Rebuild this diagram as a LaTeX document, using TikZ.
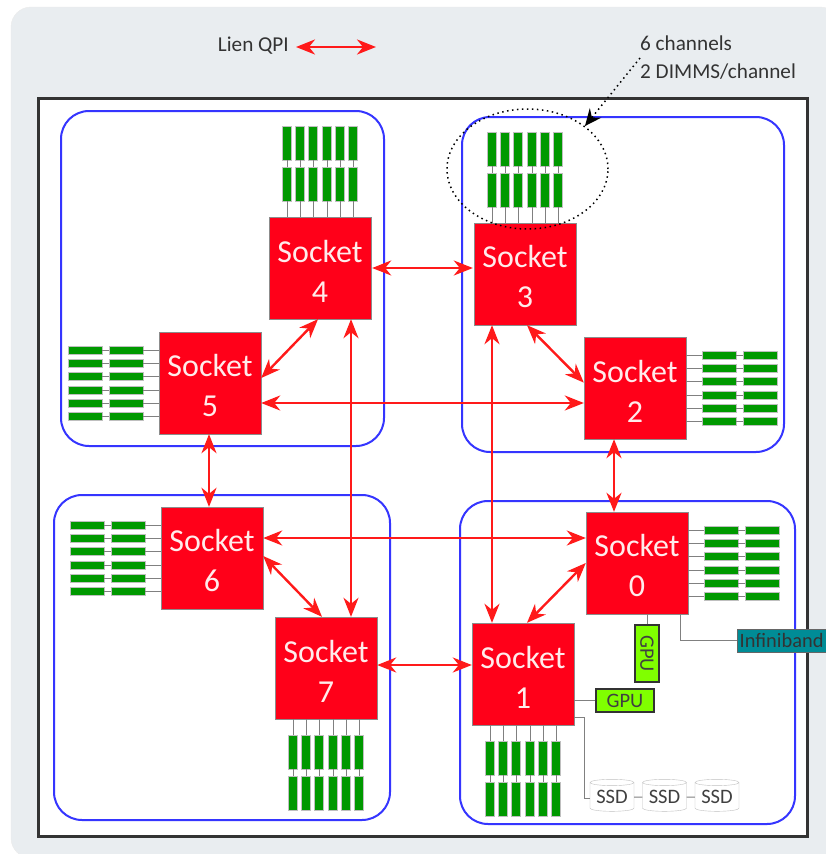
\documentclass[tikz,border=0pt]{standalone}
\usepackage{fontspec}
\setmainfont{Carlito}
\usetikzlibrary{positioning,shapes.geometric,arrows.meta,calc}
\definecolor{pagegray}{HTML}{E9EDF0}
\definecolor{socketred}{HTML}{FF0019}
\definecolor{qpired}{HTML}{FF1A1A}
\definecolor{boardblue}{HTML}{3535FF}
\definecolor{dimmgreen}{HTML}{009900}
\definecolor{gpugreen}{HTML}{80FF00}
\definecolor{ibteal}{HTML}{008C96}
\newcommand{\socketname}[1]{\rule{0pt}{28pt}Socket\\#1}
\begin{document}
\begin{tikzpicture}[
        x=1pt, y=-1pt,
        sheet/.style={rectangle, draw=black!8, fill=pagegray, rounded corners=20pt, minimum width=829pt, minimum height=851pt, inner sep=0pt},
        frame/.style={rectangle, draw=black!80, line width=2.6pt, fill=white, minimum width=769pt, minimum height=738pt, inner sep=0pt},
        board/.style={rectangle, draw=boardblue, line width=2pt, rounded corners=28pt, inner sep=0pt},
        socket/.style={rectangle, draw=black!45, fill=socketred, text=white!92!red, thin, minimum width=102pt, minimum height=102pt, inner sep=0pt, align=center, font=\fontsize{32}{40}\selectfont},
        dimmv/.style={rectangle, draw=black!25, fill=dimmgreen, thin, minimum width=9pt, minimum height=34pt, inner sep=0pt},
        dimmh/.style={rectangle, draw=black!25, fill=dimmgreen, thin, minimum width=34pt, minimum height=8.5pt, inner sep=0pt},
        gpu/.style={rectangle, draw=black!80, fill=gpugreen, line width=1.4pt, inner sep=0pt, text=black!75, font=\fontsize{20.5}{20.5}\selectfont},
        infiniband/.style={rectangle, draw=black!60, fill=ibteal, thin, text width=100pt, minimum height=23pt, inner xsep=2.5pt, inner ysep=0pt, align=left, text=black!80, font=\fontsize{20.4}{20.4}\selectfont},
        ssd/.style={cylinder, draw=black!25, fill=white, thin, minimum width=44pt, minimum height=32pt, shape border rotate=90, aspect=0.2, inner sep=0pt, text=black!75, font=\fontsize{20.5}{20.5}\selectfont},
        wire/.style={draw=black!50, line width=1pt},
        qpi/.style={{Stealth[length=19pt,width=15pt,inset=6pt]}-{Stealth[length=19pt,width=15pt,inset=6pt]}, draw=qpired, line width=2.4pt},
        legend/.style={inner sep=0pt, text=black!80, font=\fontsize{21.2}{28}\selectfont, align=left},
        pointer/.style={draw=black, line width=1.5pt, dash pattern=on 1.5pt off 3.5pt},
    ]
    \useasboundingbox (0,0) rectangle (825,854);
    \node[sheet] (page) at (425.5,432.5) {};
    \node[frame] (rack) at (423,467.5) {};

    \node[board, minimum width=323pt, minimum height=335pt] (boardA) at (222.5,278.5) {};
    \node[board, minimum width=322pt, minimum height=335pt] (boardB) at (623,284.5) {};
    \node[board, minimum width=336pt, minimum height=325pt] (boardC) at (222,657.5) {};
    \node[board, minimum width=335pt, minimum height=323pt] (boardD) at (627.5,662.5) {};

    \node[socket] (s0) at (637,563) {\socketname{0}};
    \node[socket] (s1) at (523,674) {\socketname{1}};
    \node[socket] (s2) at (635,388) {\socketname{2}};
    \node[socket] (s3) at (525,274) {\socketname{3}};
    \node[socket] (s4) at (320,268) {\socketname{4}};
    \node[socket] (s5) at (210,383) {\socketname{5}};
    \node[socket] (s6) at (212,558) {\socketname{6}};
    \node[socket] (s7) at (326,668) {\socketname{7}};

    \foreach \s/\ux/\uy/\dimm in {s0/1/0/dimmh, s1/0/1/dimmv, s2/1/0/dimmh, s3/0/-1/dimmv, s4/0/-1/dimmv, s5/-1/0/dimmh, s6/-1/0/dimmh, s7/0/1/dimmv} {
        \foreach \i/\off in {1/-33, 2/-20, 3/-7, 4/7, 5/20, 6/33} {
            \coordinate (\s-pin\i) at ($(\s.center)+(\ux*51+\uy*\off,\uy*51+\ux*\off)$);
            \node[\dimm] (\s-near\i) at ($(\s.center)+(\ux*84+\uy*\off,\uy*84+\ux*\off)$) {};
            \node[\dimm] (\s-far\i) at ($(\s.center)+(\ux*125+\uy*\off,\uy*125+\ux*\off)$) {};
            \draw[wire] (\s-pin\i) -- (\s-near\i);
            \draw[wire] (\s-near\i) -- (\s-far\i);
        }
    }

    \node[gpu, rotate=-90, minimum width=57pt, minimum height=24pt] (gpuA) at (647,653.5) {GPU};
    \node[gpu, minimum width=58pt, minimum height=23pt] (gpuB) at (625,700.5) {GPU};
    \node[infiniband, anchor=west] (ib) at (737,640.5) {Infiniband};
    \node[ssd] (ssdA) at (612,797) {SSD};
    \node[ssd] (ssdB) at (664.5,797) {SSD};
    \node[ssd] (ssdC) at (717,797) {SSD};

    \draw[wire] (gpuA.west) -- (gpuA.west |- s0.south);
    \draw[wire] (gpuB.west) -- (gpuB.west -| s1.east);
    \draw[wire] ([xshift=43pt]s0.south) |- (ib.west);
    \draw[wire] ([yshift=-43pt]s1.east) -| (584,798) -- (ssdA.west |- 0,798);
    \draw[wire] (ssdA) -- (ssdB);
    \draw[wire] (ssdB) -- (ssdC);

    \draw[qpi] ([xshift=1pt]s4.east) -- ([xshift=-1pt]s4.east -| s3.west);
    \draw[qpi] ([xshift=2pt]s3.south) -- (s2.174);
    \draw[qpi] ([yshift=-20pt]s5.east) -- ([yshift=-20pt]s5.east -| s2.west);
    \draw[qpi] ([yshift=5pt]s5.east) -- ([xshift=-2pt]s4.south);
    \draw[qpi] ([xshift=31pt]s4.south) -- ([xshift=25pt]s7.north);
    \draw[qpi] ([xshift=-33pt]s3.south) -- ([xshift=-31pt]s1.north);
    \draw[qpi] ([xshift=-1pt]s5.south) -- ([xshift=-1pt]s5.south |- s6.north);
    \draw[qpi] ([xshift=-21pt]s2.south) -- ([xshift=-23pt]s0.north);
    \draw[qpi] ([yshift=20pt]s6.east) -- ([yshift=20pt]s6.east -| s0.west);
    \draw[qpi] ([yshift=2pt]s6.east) -- ([xshift=-4pt]s7.north);
    \draw[qpi] ([yshift=3pt]s7.east) -- ([yshift=3pt]s7.east -| s1.west);
    \draw[qpi] ([xshift=4pt]s1.north) -- (s0.west);

    \node[legend, anchor=east] (qpiLabel) at (289,46) {Lien QPI};
    \coordinate (qpiStart) at (296,47);
    \coordinate (qpiEnd) at (376,47);
    \draw[qpi] (qpiStart) -- (qpiEnd);

    \node[legend, anchor=north west] (dimmNote) at (640,35.5) {6 channels\\2 DIMMS/channel};
    \node[ellipse, pointer, minimum width=161pt, minimum height=120pt, inner sep=0pt] (dimmRing) at (527.5,169) {};
    \coordinate (noteStart) at (640,58);
    \draw[pointer, -{Stealth[length=17pt,width=15pt,inset=6pt]}] (noteStart) -- (dimmRing.north east);
\end{tikzpicture}
\end{document}
